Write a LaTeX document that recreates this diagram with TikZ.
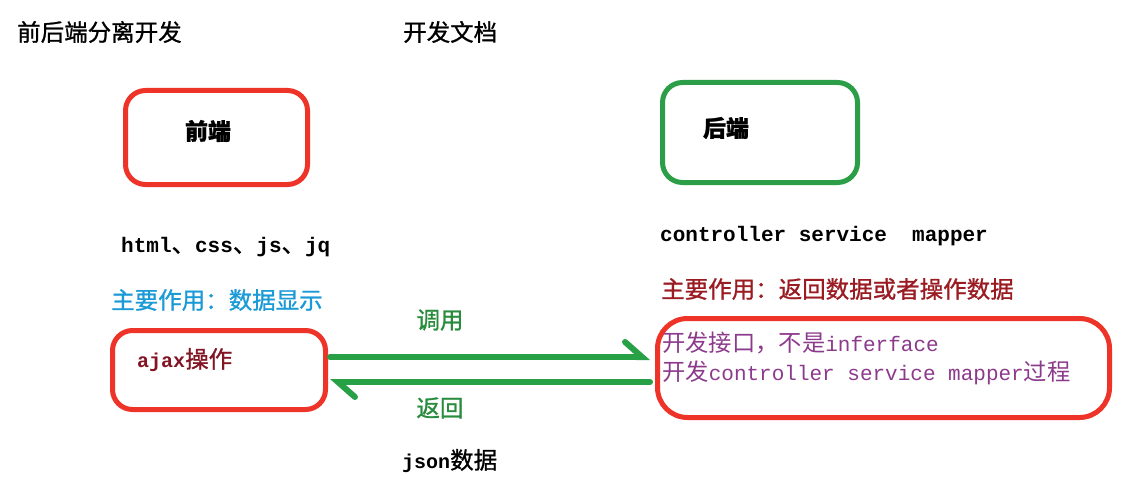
\documentclass[tikz,border=0pt]{standalone}
\usepackage{fontspec}
\usetikzlibrary{arrows.meta}
\newfontfamily\cjk[FakeBold=1]{Noto Sans CJK SC}
\newfontfamily\cjkl{Noto Sans CJK SC}
\newfontfamily\monof{Liberation Mono}
\newcommand\mt[2]{{\monof\fontsize{#1}{28}\selectfont #2}}
\definecolor{boxred}{RGB}{238,52,40}
\definecolor{boxgreen}{RGB}{44,158,72}
\definecolor{arrgreen}{RGB}{40,160,70}
\definecolor{lblgreen}{RGB}{40,140,60}
\definecolor{txtblue}{RGB}{26,154,214}
\definecolor{txtdred}{RGB}{155,27,34}
\definecolor{ajaxred}{RGB}{130,20,35}
\definecolor{txtpurple}{RGB}{140,58,140}
\tikzset{
  box/.style={draw, line width=5pt, rounded corners=20pt, minimum width=#1, inner sep=0pt},
  txt/.style={inner sep=0pt, font=\cjk\fontsize{23.5}{28}\selectfont},
  ptxt/.style={inner sep=0pt, text=txtpurple, font=\cjkl\fontsize{23.3}{28}\selectfont},
  flow/.style={draw=arrgreen, line width=6pt, line cap=round,
    -{Straight Barb[harpoon, length=17pt, width=30pt, line cap=round]}},
}
\begin{document}
\begin{tikzpicture}[x=1pt, y=-1pt]
\useasboundingbox[fill=white] (0,0) rectangle (1147,484);
% boxes
\node[box=182pt, minimum height=94pt, draw=boxred] (front) at (216.5,137.5) {};
\node[box=195pt, minimum height=100pt, draw=boxgreen] (back) at (760,132.5) {};
\node[box=213pt, minimum height=79pt, draw=boxred] (ajax) at (219,370) {};
\node[box=452pt, minimum height=99pt, draw=boxred, rounded corners=30pt] (api) at (883.5,368) {};
% titles
\node[txt, anchor=west] (t1) at (17,32) {前后端分离开发};
\node[txt, anchor=west] (t2) at (403,32) {开发文档};
\node[txt, font=\cjk\bfseries\fontsize{23}{28}\selectfont] (ft) at (208,131) {前端};
\node[txt, font=\cjk\bfseries\fontsize{23}{28}\selectfont] (bt) at (726,128) {后端};
% left texts
\node[txt, anchor=west] (html) at (121,247) {\mt{21}{\bfseries html}、\mt{21}{\bfseries css}、\mt{21}{\bfseries js}、\mt{21}{\bfseries jq}};
\node[txt, anchor=west, text=txtblue] (role1) at (111,300) {主要作用：数据显示};
\node[txt, anchor=west, text=ajaxred] (ajaxt) at (137,360) {\mt{20}{\bfseries ajax}操作};
% right texts
\node[txt, anchor=west] (ctrl) at (660,236) {\mt{21}{\bfseries controller service\ \ mapper}};
\node[txt, anchor=west, text=txtdred] (role2) at (661,289) {主要作用：返回数据或者操作数据};
\node[ptxt, anchor=west] (api1) at (662,343) {开发接口，不是\mt{21}{inferface}};
\node[ptxt, anchor=west] (api2) at (662,373) {开发\mt{21}{controller service mapper}过程};
% arrows
\draw[flow, shorten >=5pt, shorten <=2pt] ([yshift=13pt]ajax.east) -- ([yshift=13pt]ajax.east -| api.west);
\draw[flow, shorten <=5pt, shorten >=2pt] ([yshift=-12pt]ajax.east -| api.west) -- ([yshift=-12pt]ajax.east);
\node[txt, text=lblgreen] (call) at (440,320) {调用};
\node[txt, text=lblgreen] (ret) at (440,408) {返回};
\node[txt, anchor=west] (json) at (402,461) {\mt{20}{\bfseries json}数据};
\end{tikzpicture}
\end{document}
